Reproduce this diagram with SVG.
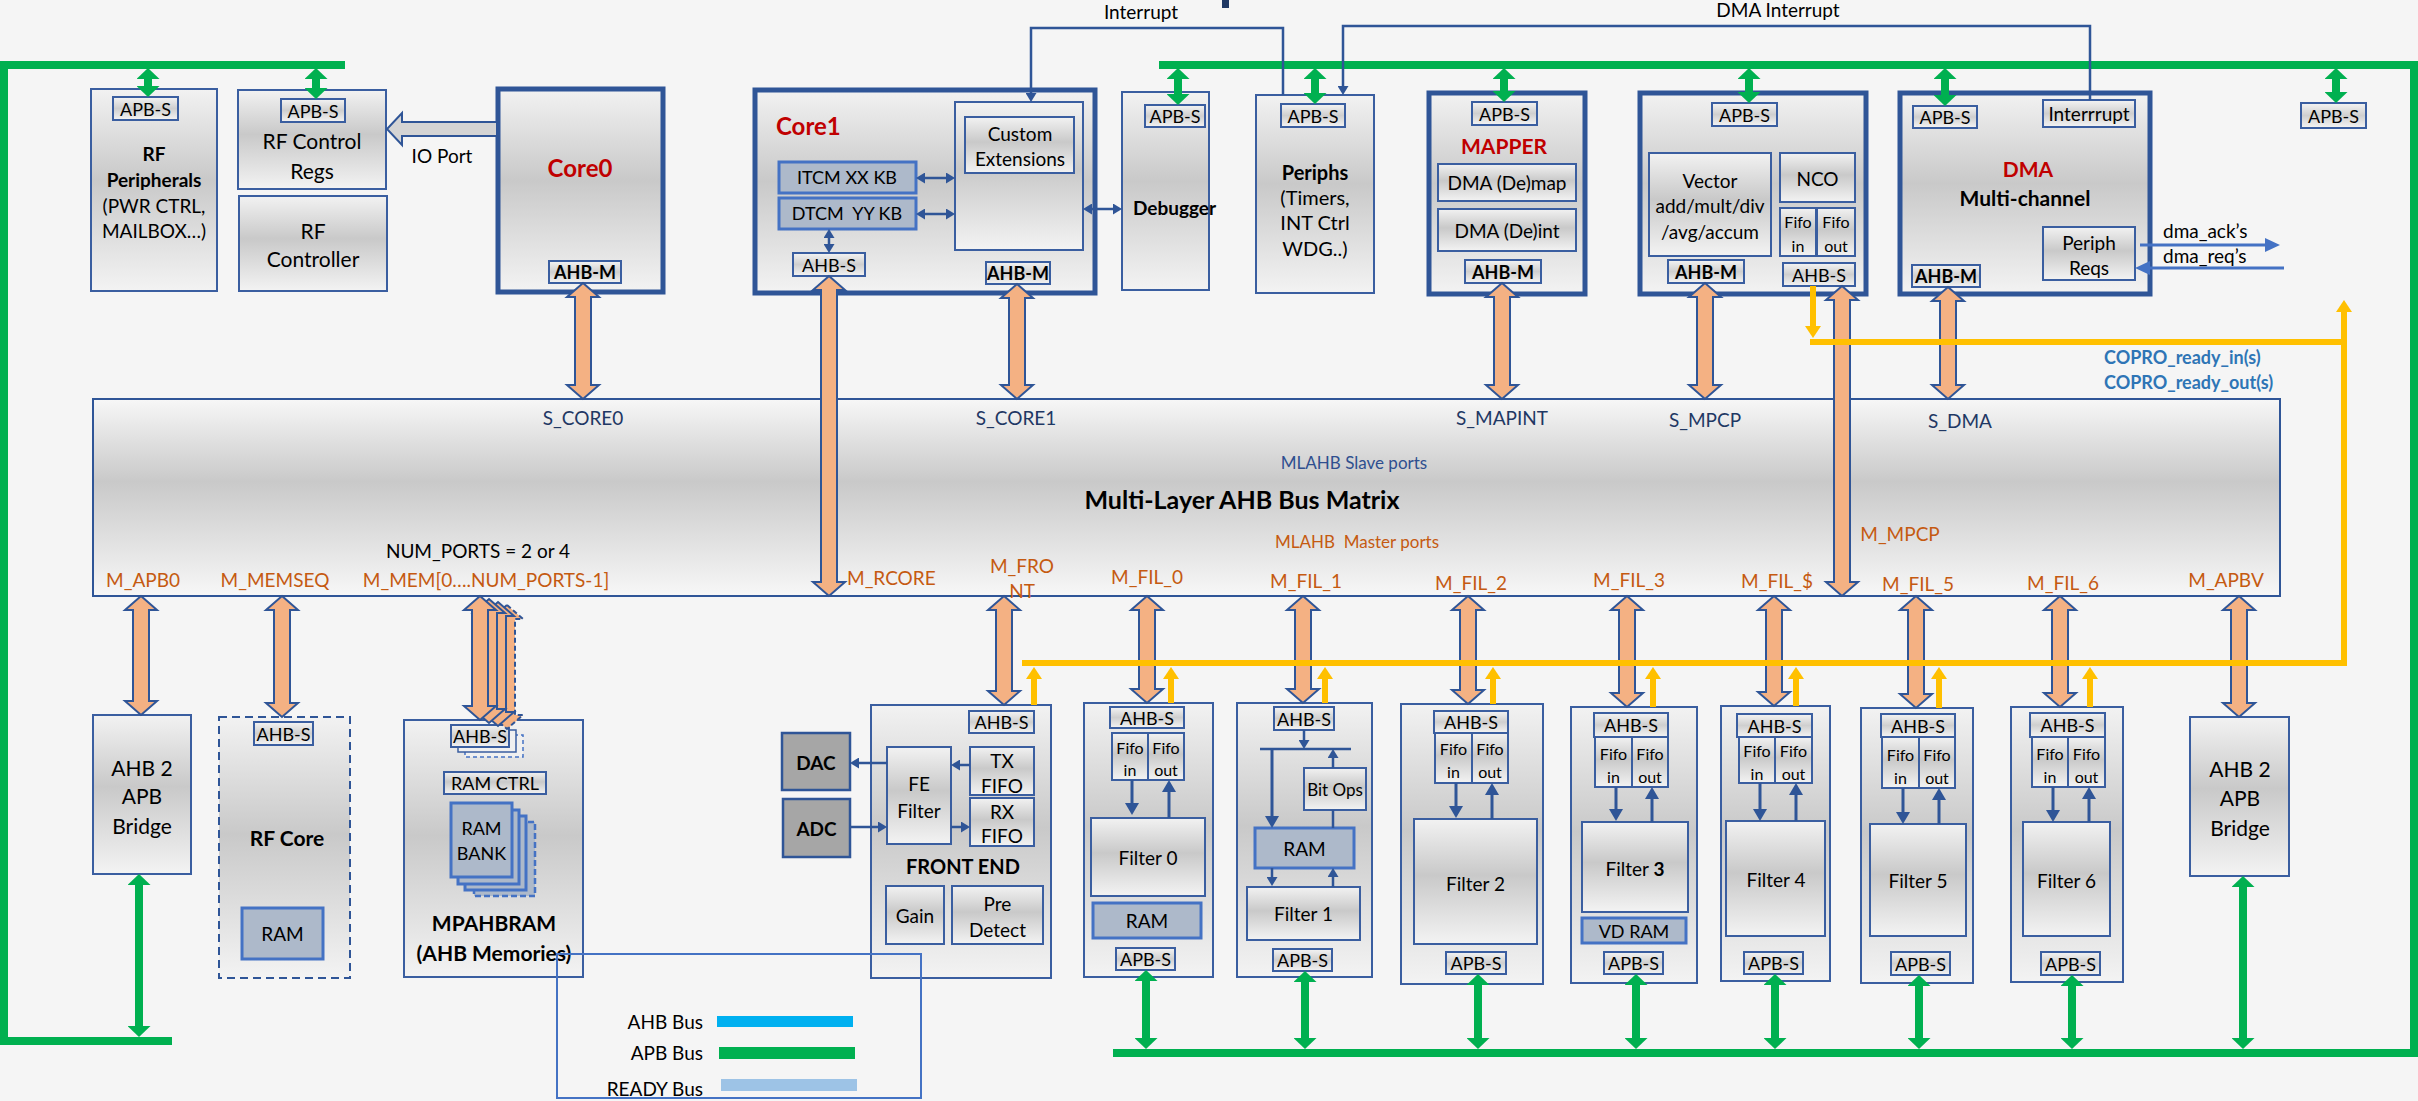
<svg xmlns="http://www.w3.org/2000/svg" width="2418" height="1101" viewBox="0 0 2418 1101">
<style>
.bx{fill:url(#gb);stroke:#3a5ea0;stroke-width:2}
.bk{fill:url(#gb);stroke:#2f5597;stroke-width:5}
.lb{fill:url(#gl);stroke:#3a5ea0;stroke-width:2}
.ram{fill:#adb9ca;stroke:#4472c4;stroke-width:3}
.dk{fill:#a6a6a6;stroke:#2f5597;stroke-width:2.5}
.oa{fill:#f4b183;stroke:#2f5597;stroke-width:2;stroke-linejoin:miter}
.bus{stroke:#00b050;stroke-width:8;fill:none}
.ga{stroke:#00b050;stroke-width:8;fill:none;marker-start:url(#gh);marker-end:url(#gh)}
.yl{stroke:#ffc000;stroke-width:6;fill:none}
.ya{stroke:#ffc000;stroke-width:6;fill:none;marker-end:url(#yh)}
.ba{stroke:#2f5597;stroke-width:3;fill:none;marker-end:url(#bh)}
.bs{stroke:#2f5597;stroke-width:2.5;fill:none;marker-end:url(#bsh)}
.bd{stroke:#2f5597;stroke-width:2.5;fill:none;marker-start:url(#bsh);marker-end:url(#bsh)}
.il{stroke:#2f5597;stroke-width:2.5;fill:none}
.dl{stroke:#4472c4;stroke-width:3;fill:none;marker-end:url(#dh)}
text{font-family:Lato,"Liberation Sans",sans-serif;dominant-baseline:central;text-anchor:middle;fill:#000;font-size:21px}
.s16{font-size:16px}.s17{font-size:17px}.s18{font-size:18px}.s19{font-size:19px}.s20{font-size:20px}.s21{font-size:21px}.s24{font-size:24px}.s25{font-size:25px}
.b{font-weight:bold}
.red{fill:#c00000;font-weight:bold}
.or{fill:#c55a11;font-size:19px}
.nv{fill:#1f3864;font-size:19px}
.st{text-anchor:start}
.en{text-anchor:end}
.cp{fill:#2e75b6;font-weight:bold;font-size:18px;text-anchor:start}
</style>
<defs>
<linearGradient id="gb" x1="0" y1="0" x2="0" y2="1"><stop offset="0" stop-color="#f2f2f2"/><stop offset="0.45" stop-color="#c9c9c9"/><stop offset="1" stop-color="#f3f3f3"/></linearGradient>
<linearGradient id="gl" x1="0" y1="0" x2="0" y2="1"><stop offset="0" stop-color="#f4f4f4"/><stop offset="0.5" stop-color="#cfcfcf"/><stop offset="1" stop-color="#f4f4f4"/></linearGradient>
<linearGradient id="gm" x1="0" y1="0" x2="0" y2="1"><stop offset="0" stop-color="#f7f7f7"/><stop offset="0.42" stop-color="#c9c9c9"/><stop offset="1" stop-color="#f7f7f7"/></linearGradient>
<marker id="gh" viewBox="0 0 11 23" refX="0" refY="11.5" markerWidth="11" markerHeight="23" orient="auto-start-reverse" markerUnits="userSpaceOnUse"><path d="M0,0 L11,11.5 L0,23 Z" fill="#00b050"/></marker>
<marker id="yh" viewBox="0 0 12 16" refX="0" refY="8" markerWidth="12" markerHeight="16" orient="auto" markerUnits="userSpaceOnUse"><path d="M0,0 L12,8 L0,16 Z" fill="#ffc000"/></marker>
<marker id="bh" viewBox="0 0 12 14" refX="0" refY="7" markerWidth="12" markerHeight="14" orient="auto" markerUnits="userSpaceOnUse"><path d="M0,0 L12,7 L0,14 Z" fill="#2f5597"/></marker>
<marker id="bsh" viewBox="0 0 9 11" refX="0" refY="5.5" markerWidth="9" markerHeight="11" orient="auto-start-reverse" markerUnits="userSpaceOnUse"><path d="M0,0 L9,5.5 L0,11 Z" fill="#2f5597"/></marker>
<marker id="dh" viewBox="0 0 15 14" refX="0" refY="7" markerWidth="15" markerHeight="14" orient="auto" markerUnits="userSpaceOnUse"><path d="M0,0 L15,7 L0,14 Z" fill="#4472c4"/></marker>
<path id="memarrow" d="M480,596 L496,610 L488,610 L488,706 L496,706 L480,720 L464,706 L472,706 L472,610 L464,610 Z"/>
</defs>
<rect width="2418" height="1101" fill="#f5f5f5"/>
<rect x="1222" y="0" width="7" height="8" fill="#1f3864"/>

<g id="apb-buses">
<path class="bus" d="M345,65 L4,65 L4,1041 L172,1041"/>
<path class="bus" d="M1159,65 L2414,65 L2414,1053 L1113,1053"/>
</g>

<g id="rf-peripherals">
<rect class="bx" x="91" y="89" width="126" height="202"/>
<rect class="lb" x="113" y="97" width="65" height="23"/><text class="s18" x="145.5" y="108.5">APB-S</text>
<text class="b s19" x="154" y="153">RF</text>
<text class="b s19" x="154" y="179">Peripherals</text>
<text class="s19" x="154" y="205">(PWR CTRL,</text>
<text class="s19" x="154" y="230">MAILBOX…)</text>
</g>
<g id="rf-control-regs">
<rect class="bx" x="238" y="90" width="148" height="99"/>
<rect class="lb" x="281" y="99" width="64" height="23"/><text class="s18" x="313" y="110.5">APB-S</text>
<text x="312" y="140">RF Control</text>
<text x="312" y="170">Regs</text>
</g>
<g id="rf-controller">
<rect class="bx" x="239" y="196" width="148" height="95"/>
<text x="313" y="230">RF</text>
<text x="313" y="258">Controller</text>
</g>
<g id="core0">
<rect class="bk" x="498" y="89" width="165" height="203"/>
<text class="red s24" x="580" y="167">Core0</text>
<rect class="lb" x="549" y="261" width="72" height="22"/><text class="b s18" x="585" y="272">AHB-M</text>
</g>
<g id="core1">
<rect class="bk" x="755" y="90" width="340" height="203"/>
<text class="red s24 st" x="776" y="125">Core1</text>
<rect class="bx" x="955" y="102" width="128" height="148"/>
<rect class="bx" x="965" y="117" width="109" height="56"/>
<text class="s19" x="1020" y="133">Custom</text>
<text class="s19" x="1020" y="158">Extensions</text>
<rect class="ram" x="779" y="162" width="137" height="31"/><text class="s18" x="847" y="177">ITCM XX KB</text>
<rect class="ram" x="779" y="198" width="137" height="31"/><text class="s18" x="847" y="213" xml:space="preserve">DTCM  YY KB</text>
<rect class="lb" x="793" y="253" width="72" height="23"/><text class="s18" x="829" y="264.5">AHB-S</text>
<rect class="lb" x="986" y="262" width="64" height="22"/><text class="b s18" x="1018" y="273">AHB-M</text>
</g>
<g id="debugger">
<rect class="bx" x="1122" y="92" width="87" height="198"/>
<rect class="lb" x="1145" y="105" width="60" height="22"/><text class="s18" x="1175" y="116">APB-S</text>
<text class="b s19 st" x="1133" y="207">Debugger</text>
</g>
<g id="periphs">
<rect class="bx" x="1256" y="95" width="118" height="198"/>
<rect class="lb" x="1281" y="104" width="64" height="23"/><text class="s18" x="1313" y="115.5">APB-S</text>
<text class="b s20" x="1315" y="172">Periphs</text>
<text class="s20" x="1315" y="197">(Timers,</text>
<text class="s20" x="1315" y="222">INT Ctrl</text>
<text class="s20" x="1315" y="248">WDG..)</text>
</g>
<g id="mapper">
<rect class="bk" x="1429" y="93" width="156" height="201"/>
<rect class="lb" x="1472" y="102" width="65" height="23"/><text class="s18" x="1504.5" y="113.5">APB-S</text>
<text class="red s21" x="1504" y="145">MAPPER</text>
<rect class="bx" x="1438" y="164" width="138" height="37"/><text class="s19" x="1507" y="182.5">DMA (De)map</text>
<rect class="bx" x="1438" y="209" width="138" height="42"/><text class="s19" x="1507" y="230">DMA (De)int</text>
<rect class="lb" x="1465" y="260" width="76" height="23"/><text class="b s18" x="1503" y="271.5">AHB-M</text>
</g>
<g id="mpcp">
<rect class="bk" x="1640" y="93" width="226" height="201"/>
<rect class="lb" x="1712" y="103" width="65" height="23"/><text class="s18" x="1744.5" y="114.5">APB-S</text>
<rect class="bx" x="1649" y="153" width="122" height="103"/>
<text class="s19" x="1710" y="180">Vector</text>
<text class="s19" x="1710" y="205">add/mult/div</text>
<text class="s19" x="1710" y="231">/avg/accum</text>
<rect class="bx" x="1780" y="153" width="75" height="49"/><text class="s19" x="1817.5" y="178">NCO</text>
<rect class="bx" x="1780" y="208" width="36" height="48"/><text class="s16" x="1798" y="221">Fifo</text><text class="s16" x="1798" y="245">in</text>
<rect class="bx" x="1817" y="208" width="38" height="48"/><text class="s16" x="1836" y="221">Fifo</text><text class="s16" x="1836" y="245">out</text>
<rect class="lb" x="1668" y="260" width="76" height="23"/><text class="b s18" x="1706" y="271.5">AHB-M</text>
<rect class="lb" x="1783" y="263" width="72" height="23"/><text class="s18" x="1819" y="274.5">AHB-S</text>
</g>
<g id="dma">
<rect class="bk" x="1900" y="93" width="250" height="201"/>
<rect class="lb" x="1913" y="106" width="64" height="22"/><text class="s18" x="1945" y="117">APB-S</text>
<rect class="lb" x="2043" y="100" width="92" height="27"/><text class="s19" x="2089" y="113.5">Interrrupt</text>
<text class="red s21" x="2028" y="168">DMA</text>
<text class="b s21" x="2025" y="197">Multi-channel</text>
<rect class="bx" x="2043" y="227" width="92" height="53"/><text class="s19" x="2089" y="242">Periph</text><text class="s19" x="2089" y="267">Reqs</text>
<rect class="lb" x="1912" y="265" width="68" height="22"/><text class="b s18" x="1946" y="276">AHB-M</text>
</g>
<g id="apb-s-right">
<rect class="lb" x="2301" y="103" width="65" height="25"/><text class="s18" x="2333.5" y="115.5">APB-S</text>
</g>

<g id="bus-matrix">
<rect x="93" y="399" width="2187" height="197" fill="url(#gm)" stroke="#2f5597" stroke-width="2"/>
<text class="nv" x="583" y="417">S_CORE0</text>
<text class="nv" x="1016" y="417">S_CORE1</text>
<text class="nv" x="1502" y="417">S_MAPINT</text>
<text class="nv" x="1705" y="419">S_MPCP</text>
<text class="nv" x="1960" y="420">S_DMA</text>
<text class="s17" x="1354" y="462" style="fill:#2f4f8f">MLAHB Slave ports</text>
<text class="b s25" x="1242" y="499">Multi-Layer AHB Bus Matrix</text>
<text class="s17" x="1357" y="541" xml:space="preserve" style="fill:#c55a11">MLAHB  Master ports</text>
<text class="s19" x="478" y="550">NUM_PORTS = 2 or 4</text>
<text class="or" x="143" y="579">M_APB0</text>
<text class="or" x="275" y="579">M_MEMSEQ</text>
<text class="or" x="486" y="579">M_MEM[0….NUM_PORTS-1]</text>
<text class="or st" x="847" y="577">M_RCORE</text>
<text class="or" x="1022" y="565">M_FRO</text>
<text class="or" x="1022" y="590">NT</text>
<text class="or" x="1147" y="576">M_FIL_0</text>
<text class="or" x="1306" y="580">M_FIL_1</text>
<text class="or" x="1471" y="582">M_FIL_2</text>
<text class="or" x="1629" y="579">M_FIL_3</text>
<text class="or" x="1777" y="580">M_FIL_$</text>
<text class="or" x="1900" y="533">M_MPCP</text>
<text class="or" x="1918" y="583">M_FIL_5</text>
<text class="or" x="2063" y="582">M_FIL_6</text>
<text class="or" x="2226" y="579">M_APBV</text>
</g>

<g id="ahb2apb-left">
<rect class="bx" x="93" y="715" width="98" height="159"/>
<text x="142" y="767">AHB 2</text><text x="142" y="795">APB</text><text x="142" y="825">Bridge</text>
</g>
<g id="rf-core">
<rect x="219" y="717" width="131" height="261" fill="url(#gb)" stroke="#2f5597" stroke-width="2" stroke-dasharray="8,5"/>
<rect class="lb" x="254" y="722" width="59" height="23"/><text class="s18" x="283.5" y="733.5">AHB-S</text>
<text class="b s21" x="287" y="837">RF Core</text>
<rect class="ram" x="242" y="908" width="81" height="51"/><text class="s19" x="282.5" y="933.5">RAM</text>
</g>
<g id="mpahbram">
<rect class="bx" x="404" y="720" width="179" height="257"/>
<rect x="465" y="735" width="58" height="22" fill="#f0f0f0" stroke="#4472c4" stroke-width="1.5" stroke-dasharray="4,3"/>
<rect x="458" y="730" width="58" height="22" fill="#f0f0f0" stroke="#3a5ea0" stroke-width="1.5"/>
<rect class="lb" x="451" y="725" width="58" height="22"/><text class="s18" x="480" y="736">AHB-S</text>
<rect class="bx" x="444" y="772" width="102" height="22"/><text class="s18" x="495" y="783">RAM CTRL</text>
<rect x="474" y="822" width="61" height="74" fill="#adb9ca" stroke="#4472c4" stroke-width="2.5" stroke-dasharray="6,3"/>
<rect class="ram" x="465" y="816" width="61" height="74"/>
<rect class="ram" x="458" y="810" width="61" height="74"/>
<rect class="ram" x="451" y="803" width="61" height="74"/>
<text class="s18" x="481.5" y="828">RAM</text><text class="s18" x="481.5" y="853">BANK</text>
<text class="b s21" x="494" y="922">MPAHBRAM</text>
<text class="b s21" x="494" y="952">(AHB Memories)</text>
</g>
<g id="dac">
<rect class="dk" x="782" y="733" width="68" height="57"/><text class="b s19" x="816" y="762">DAC</text>
</g>
<g id="adc">
<rect class="dk" x="783" y="799" width="67" height="58"/><text class="b s19" x="816.5" y="828">ADC</text>
</g>
<g id="front-end">
<rect class="bx" x="871" y="705" width="180" height="273"/>
<rect class="lb" x="969" y="711" width="65" height="22"/><text class="s18" x="1001.5" y="722">AHB-S</text>
<rect class="bx" x="887" y="747" width="64" height="97"/><text class="s19" x="919" y="783">FE</text><text class="s19" x="919" y="810">Filter</text>
<rect class="bx" x="970" y="747" width="64" height="48"/><text class="s19" x="1002" y="760">TX</text><text class="s19" x="1002" y="785">FIFO</text>
<rect class="bx" x="970" y="798" width="64" height="48"/><text class="s19" x="1002" y="811">RX</text><text class="s19" x="1002" y="835">FIFO</text>
<text class="b s20" x="963" y="866">FRONT END</text>
<rect class="bx" x="886" y="886" width="58" height="58"/><text class="s19" x="915" y="915">Gain</text>
<rect class="bx" x="952" y="886" width="91" height="58"/><text class="s19" x="997.5" y="903">Pre</text><text class="s19" x="997.5" y="929">Detect</text>
</g>
<g id="filter0">
<rect class="bx" x="1084" y="703" width="129" height="274"/>
<rect class="lb" x="1110" y="707" width="74" height="21"/><text class="s18" x="1147" y="717.5">AHB-S</text>
<rect class="bx" x="1112" y="733" width="36" height="47"/><text class="s16" x="1130" y="747">Fifo</text><text class="s16" x="1130" y="769">in</text>
<rect class="bx" x="1148" y="733" width="36" height="47"/><text class="s16" x="1166" y="747">Fifo</text><text class="s16" x="1166" y="769">out</text>
<rect class="bx" x="1091" y="818" width="114" height="78"/><text class="s19" x="1148" y="857">Filter 0</text>
<rect class="ram" x="1093" y="903" width="108" height="35"/><text class="s19" x="1147" y="920.5">RAM</text>
<rect class="lb" x="1116" y="948" width="59" height="22"/><text class="s18" x="1145.5" y="959">APB-S</text>
</g>
<g id="filter1">
<rect class="bx" x="1237" y="703" width="135" height="274"/>
<rect class="lb" x="1274" y="707" width="60" height="23"/><text class="s18" x="1304" y="718.5">AHB-S</text>
<rect class="bx" x="1304" y="768" width="62" height="42"/><text class="s17" x="1335" y="789">Bit Ops</text>
<rect class="ram" x="1255" y="828" width="99" height="40"/><text class="s19" x="1304.5" y="848">RAM</text>
<rect class="bx" x="1247" y="887" width="113" height="53"/><text class="s19" x="1303.5" y="913.5">Filter 1</text>
<rect class="lb" x="1273" y="949" width="59" height="22"/><text class="s18" x="1302.5" y="960">APB-S</text>
</g>
<g id="filter2">
<rect class="bx" x="1401" y="704" width="142" height="280"/>
<rect class="lb" x="1434" y="711" width="74" height="22"/><text class="s18" x="1471" y="722">AHB-S</text>
<rect class="bx" x="1435" y="733" width="37" height="50"/><text class="s16" x="1453.5" y="748">Fifo</text><text class="s16" x="1453.5" y="771">in</text>
<rect class="bx" x="1472" y="733" width="36" height="50"/><text class="s16" x="1490" y="748">Fifo</text><text class="s16" x="1490" y="771">out</text>
<rect class="bx" x="1414" y="819" width="123" height="125"/><text class="s19" x="1475.5" y="883">Filter 2</text>
<rect class="lb" x="1446" y="952" width="60" height="22"/><text class="s18" x="1476" y="963">APB-S</text>
</g>
<g id="filter3">
<rect class="bx" x="1571" y="707" width="126" height="276"/>
<rect class="lb" x="1594" y="713" width="74" height="24"/><text class="s18" x="1631" y="725">AHB-S</text>
<rect class="bx" x="1595" y="737" width="37" height="50"/><text class="s16" x="1613.5" y="753">Fifo</text><text class="s16" x="1613.5" y="776">in</text>
<rect class="bx" x="1632" y="737" width="36" height="50"/><text class="s16" x="1650" y="753">Fifo</text><text class="s16" x="1650" y="776">out</text>
<rect class="bx" x="1582" y="822" width="106" height="90"/><text class="s19" x="1635" y="868">Filter <tspan font-weight="bold">3</tspan></text>
<rect class="ram" x="1582" y="918" width="104" height="25"/><text class="s18" x="1634" y="930.5">VD RAM</text>
<rect class="lb" x="1604" y="952" width="59" height="22"/><text class="s18" x="1633.5" y="963">APB-S</text>
</g>
<g id="filter4">
<rect class="bx" x="1721" y="706" width="109" height="275"/>
<rect class="lb" x="1737" y="714" width="75" height="23"/><text class="s18" x="1774.5" y="725.5">AHB-S</text>
<rect class="bx" x="1739" y="737" width="36" height="46"/><text class="s16" x="1757" y="750">Fifo</text><text class="s16" x="1757" y="773">in</text>
<rect class="bx" x="1775" y="737" width="37" height="46"/><text class="s16" x="1793.5" y="750">Fifo</text><text class="s16" x="1793.5" y="773">out</text>
<rect class="bx" x="1726" y="821" width="99" height="115"/><text class="s19" x="1776" y="879">Filter 4</text>
<rect class="lb" x="1744" y="952" width="59" height="22"/><text class="s18" x="1773.5" y="963">APB-S</text>
</g>
<g id="filter5">
<rect class="bx" x="1861" y="708" width="112" height="275"/>
<rect class="lb" x="1881" y="714" width="74" height="23"/><text class="s18" x="1918" y="725.5">AHB-S</text>
<rect class="bx" x="1882" y="737" width="37" height="51"/><text class="s16" x="1900.5" y="754">Fifo</text><text class="s16" x="1900.5" y="777">in</text>
<rect class="bx" x="1919" y="737" width="36" height="51"/><text class="s16" x="1937" y="754">Fifo</text><text class="s16" x="1937" y="777">out</text>
<rect class="bx" x="1870" y="824" width="96" height="112"/><text class="s19" x="1918" y="880">Filter 5</text>
<rect class="lb" x="1891" y="952" width="59" height="23"/><text class="s18" x="1920.5" y="963.5">APB-S</text>
</g>
<g id="filter6">
<rect class="bx" x="2011" y="707" width="112" height="275"/>
<rect class="lb" x="2030" y="713" width="75" height="24"/><text class="s18" x="2067.5" y="725">AHB-S</text>
<rect class="bx" x="2032" y="737" width="36" height="50"/><text class="s16" x="2050" y="753">Fifo</text><text class="s16" x="2050" y="776">in</text>
<rect class="bx" x="2068" y="737" width="37" height="50"/><text class="s16" x="2086.5" y="753">Fifo</text><text class="s16" x="2086.5" y="776">out</text>
<rect class="bx" x="2023" y="822" width="87" height="114"/><text class="s19" x="2066.5" y="880">Filter 6</text>
<rect class="lb" x="2041" y="952" width="59" height="23"/><text class="s18" x="2070.5" y="963.5">APB-S</text>
</g>
<g id="ahb2apb-right">
<rect class="bx" x="2190" y="717" width="99" height="159"/>
<text x="2240" y="768">AHB 2</text><text x="2240" y="797">APB</text><text x="2240" y="827">Bridge</text>
</g>

<g id="connectors">
<path d="M497,122 L402,122 L402,113 L387,129 L402,145 L402,136 L497,136 Z" fill="#d4d4d4" stroke="#2f5597" stroke-width="2"/>
<text class="s19" x="442" y="155">IO Port</text>
<path class="il" d="M1283,95 L1283,28 L1031,28 L1031,93" marker-end="url(#bsh)"/>
<text class="s19" x="1141" y="11">Interrupt</text>
<path class="il" d="M2090,100 L2090,26 L1343,26 L1343,86" marker-end="url(#bsh)"/>
<text class="s19" x="1778" y="9">DMA Interrupt</text>
<line class="bd" x1="925" y1="178" x2="946" y2="178"/>
<line class="bd" x1="925" y1="214" x2="946" y2="214"/>
<line class="bd" x1="829" y1="238" x2="829" y2="244"/>
<line class="bd" x1="1092" y1="209" x2="1113" y2="209"/>
<line class="dl" x1="2140" y1="245" x2="2265" y2="245"/>
<line class="dl" x1="2284" y1="268" x2="2150" y2="268"/>
<text class="s19 st" x="2163" y="230">dma_ack’s</text>
<text class="s19 st" x="2163" y="255">dma_req’s</text>
<path class="oa" d="M583,283 L599,297 L591,297 L591,385 L599,385 L583,399 L567,385 L575,385 L575,297 L567,297 Z"/>
<path class="oa" d="M829,276 L845,290 L837,290 L837,582 L845,582 L829,596 L813,582 L821,582 L821,290 L813,290 Z"/>
<path class="oa" d="M1017,284 L1033,298 L1025,298 L1025,385 L1033,385 L1017,399 L1001,385 L1009,385 L1009,298 L1001,298 Z"/>
<path class="oa" d="M1502,283 L1518,297 L1510,297 L1510,385 L1518,385 L1502,399 L1486,385 L1494,385 L1494,297 L1486,297 Z"/>
<path class="oa" d="M1705,283 L1721,297 L1713,297 L1713,385 L1721,385 L1705,399 L1689,385 L1697,385 L1697,297 L1689,297 Z"/>
<path class="oa" d="M1842,286 L1858,300 L1850,300 L1850,582 L1858,582 L1842,596 L1826,582 L1834,582 L1834,300 L1826,300 Z"/>
<path class="oa" d="M1948,287 L1964,301 L1956,301 L1956,385 L1964,385 L1948,399 L1932,385 L1940,385 L1940,301 L1932,301 Z"/>
<path class="oa" d="M141,596 L157,610 L149,610 L149,701 L157,701 L141,715 L125,701 L133,701 L133,610 L125,610 Z"/>
<path class="oa" d="M282,596 L298,610 L290,610 L290,703 L298,703 L282,717 L266,703 L274,703 L274,610 L266,610 Z"/>
<use href="#memarrow" class="oa" transform="translate(27,9)" style="stroke-dasharray:5,3"/>
<use href="#memarrow" class="oa" transform="translate(18,6)"/>
<use href="#memarrow" class="oa" transform="translate(9,3)"/>
<use href="#memarrow" class="oa"/>
<path class="oa" d="M1004,596 L1020,610 L1012,610 L1012,691 L1020,691 L1004,705 L988,691 L996,691 L996,610 L988,610 Z"/>
<path class="oa" d="M1147,596 L1163,610 L1155,610 L1155,689 L1163,689 L1147,703 L1131,689 L1139,689 L1139,610 L1131,610 Z"/>
<path class="oa" d="M1303,596 L1319,610 L1311,610 L1311,689 L1319,689 L1303,703 L1287,689 L1295,689 L1295,610 L1287,610 Z"/>
<path class="oa" d="M1468,596 L1484,610 L1476,610 L1476,690 L1484,690 L1468,704 L1452,690 L1460,690 L1460,610 L1452,610 Z"/>
<path class="oa" d="M1627,596 L1643,610 L1635,610 L1635,693 L1643,693 L1627,707 L1611,693 L1619,693 L1619,610 L1611,610 Z"/>
<path class="oa" d="M1774,596 L1790,610 L1782,610 L1782,692 L1790,692 L1774,706 L1758,692 L1766,692 L1766,610 L1758,610 Z"/>
<path class="oa" d="M1916,596 L1932,610 L1924,610 L1924,694 L1932,694 L1916,708 L1900,694 L1908,694 L1908,610 L1900,610 Z"/>
<path class="oa" d="M2060,596 L2076,610 L2068,610 L2068,693 L2076,693 L2060,707 L2044,693 L2052,693 L2052,610 L2044,610 Z"/>
<path class="oa" d="M2239,596 L2255,610 L2247,610 L2247,703 L2255,703 L2239,717 L2223,703 L2231,703 L2231,610 L2223,610 Z"/>
<line class="ga" x1="148" y1="79" x2="148" y2="86"/>
<line class="ga" x1="316" y1="79" x2="316" y2="88"/>
<line class="ga" x1="1178" y1="79" x2="1178" y2="94"/>
<line class="ga" x1="1315" y1="79" x2="1315" y2="93"/>
<line class="ga" x1="1504" y1="79" x2="1504" y2="91"/>
<line class="ga" x1="1749" y1="79" x2="1749" y2="92"/>
<line class="ga" x1="1945" y1="79" x2="1945" y2="95"/>
<line class="ga" x1="2336" y1="79" x2="2336" y2="92"/>
<line class="ga" x1="139" y1="885" x2="139" y2="1026"/>
<line class="ga" x1="1146" y1="981" x2="1146" y2="1038"/>
<line class="ga" x1="1305" y1="982" x2="1305" y2="1038"/>
<line class="ga" x1="1478" y1="985" x2="1478" y2="1038"/>
<line class="ga" x1="1636" y1="985" x2="1636" y2="1038"/>
<line class="ga" x1="1775" y1="985" x2="1775" y2="1038"/>
<line class="ga" x1="1919" y1="986" x2="1919" y2="1038"/>
<line class="ga" x1="2072" y1="986" x2="2072" y2="1038"/>
<line class="ga" x1="2243" y1="887" x2="2243" y2="1038"/>
<path class="yl" d="M1022,663 L2347,663"/>
<path class="yl" d="M1810,342 L2347,342"/>
<line class="ya" x1="2344" y1="666" x2="2344" y2="312"/>
<line class="ya" x1="1813" y1="286" x2="1813" y2="326"/>
<line class="ya" x1="1034" y1="705" x2="1034" y2="679"/>
<line class="ya" x1="1171" y1="703" x2="1171" y2="679"/>
<line class="ya" x1="1325" y1="703" x2="1325" y2="679"/>
<line class="ya" x1="1493" y1="704" x2="1493" y2="679"/>
<line class="ya" x1="1653" y1="707" x2="1653" y2="679"/>
<line class="ya" x1="1796" y1="706" x2="1796" y2="679"/>
<line class="ya" x1="1939" y1="708" x2="1939" y2="679"/>
<line class="ya" x1="2090" y1="707" x2="2090" y2="679"/>
<text class="cp" x="2104" y="357">COPRO_ready_in(s)</text>
<text class="cp" x="2104" y="382">COPRO_ready_out(s)</text>
<line class="bs" x1="887" y1="763" x2="859" y2="763"/>
<line class="bs" x1="850" y1="827" x2="878" y2="827"/>
<line class="bs" x1="970" y1="765" x2="960" y2="765"/>
<line class="bs" x1="951" y1="827" x2="961" y2="827"/>
<line class="ba" x1="1132" y1="780" x2="1132" y2="803"/>
<line class="ba" x1="1169" y1="818" x2="1169" y2="792"/>
<line class="bs" x1="1304" y1="730" x2="1304" y2="740"/>
<line class="il" x1="1260" y1="749" x2="1351" y2="749"/>
<line class="ba" x1="1272" y1="749" x2="1272" y2="816"/>
<line class="bs" x1="1333" y1="768" x2="1333" y2="758"/>
<line class="il" x1="1333" y1="810" x2="1333" y2="828"/>
<line class="bs" x1="1272" y1="868" x2="1272" y2="877"/>
<line class="bs" x1="1333" y1="887" x2="1333" y2="877"/>
<line class="ba" x1="1456" y1="783" x2="1456" y2="806"/>
<line class="ba" x1="1492" y1="819" x2="1492" y2="795"/>
<line class="ba" x1="1616" y1="787" x2="1616" y2="809"/>
<line class="ba" x1="1652" y1="822" x2="1652" y2="799"/>
<line class="ba" x1="1760" y1="783" x2="1760" y2="809"/>
<line class="ba" x1="1796" y1="821" x2="1796" y2="795"/>
<line class="ba" x1="1903" y1="788" x2="1903" y2="812"/>
<line class="ba" x1="1939" y1="824" x2="1939" y2="800"/>
<line class="ba" x1="2053" y1="787" x2="2053" y2="810"/>
<line class="ba" x1="2089" y1="822" x2="2089" y2="799"/>
</g>

<g id="legend">
<rect x="557" y="954" width="364" height="144" fill="none" stroke="#4472c4" stroke-width="2"/>
<text class="s19 en" x="703" y="1021">AHB Bus</text>
<rect x="717" y="1016" width="136" height="11" fill="#00b0f0"/>
<text class="s19 en" x="703" y="1052">APB Bus</text>
<rect x="719" y="1047" width="136" height="12" fill="#00b050"/>
<text class="s19 en" x="703" y="1088">READY Bus</text>
<rect x="721" y="1079" width="136" height="12" fill="#9dc3e6"/>
</g>
</svg>
